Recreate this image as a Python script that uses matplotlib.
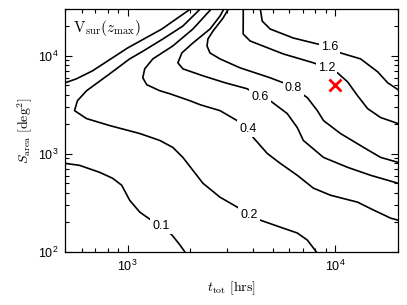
import matplotlib
matplotlib.use("Agg")
import matplotlib.pyplot as plt
from matplotlib.ticker import LogLocator, LogFormatterSciNotation, NullFormatter

plt.rcParams["font.family"] = ["Liberation Sans", "DejaVu Sans"]
plt.rcParams["mathtext.fontset"] = "custom"
plt.rcParams["mathtext.rm"] = "Liberation Sans"
plt.rcParams["mathtext.it"] = "Liberation Sans:italic"

# contour traces: t_tot [hrs], S_area [deg^2]
t_01a = [500, 567, 677, 1000, 1460, 2000]
s_01a = [5320, 5840, 7040, 12060, 18800, 30000]

t_01b = [500, 586, 733, 847, 936, 1022, 1143, 1277, 1443, 1633, 1783, 1885]
s_01b = [801, 765, 649, 564, 479, 337, 255, 216, 184, 149, 118, 100]

t_02 = [2230, 1844, 1477, 1169, 1022, 819, 634, 573, 555, 634, 819, 1143, 1428,
        1649, 1844, 2060, 2302, 2781, 3363, 3843, 4345, 5423, 6549, 7324, 8090]
s_02 = [30000, 20180, 14880, 10990, 9320, 6560, 4410, 3490, 2765, 2293, 1947,
        1615, 1372, 1165, 921, 680, 502, 362, 287, 238, 211, 179, 156, 132, 100]

t_04 = [2520, 2060, 1649, 1321, 1208, 1182, 1236, 1428, 1596, 1993, 2228, 2781,
        3363, 3800, 4018, 4693, 5423, 6549, 7834, 9460, 12770, 15270, 18440, 20000]
s_04 = [30000, 18800, 12640, 9320, 7380, 5980, 5080, 4410, 4110, 3490, 3180, 2765,
        2188, 1814, 1471, 1012, 801, 605, 447, 379, 322, 267, 221, 211]

t_06 = [2900, 2781, 2489, 2060, 1823, 1744, 1844, 2302, 2944, 3760, 4345, 4850,
        5860, 6549, 7005, 8757, 11430, 14760, 20000]
s_06 = [30000, 25500, 18800, 13550, 10730, 8500, 7380, 6270, 5320, 4620, 3838,
        3490, 2578, 1857, 1372, 921, 730, 605, 502]

t_08 = [3050, 2876, 2574, 2433, 2409, 2489, 2781, 3478, 4850, 5605, 6265, 7324,
        8180, 8757, 10570, 13660, 16500, 20000]
s_08 = [30000, 24300, 17950, 14880, 12640, 10730, 9320, 7550, 5980, 5320, 4730,
        3745, 2765, 2188, 1615, 1165, 921, 820]

t_12 = [3600, 3595, 3884, 5605, 7834, 9060, 10230, 11430, 12770, 14280, 16500, 20000]
s_12 = [30000, 16730, 14200, 10480, 8500, 7550, 6720, 5440, 3927, 2897, 2350, 2040]

t_16 = [4350, 4441, 4850, 6265, 7834, 9350, 10570, 13210, 15960, 17830, 20000]
s_16 = [30000, 22660, 18800, 15230, 13550, 12340, 10730, 9320, 6880, 5320, 4520]

# inline labels: text, t, S
label_text = ["0.1", "0.2", "0.4", "0.6", "0.8", "1.2", "1.6"]
label_t = [1443, 3843, 3800, 4345, 6265, 9060, 9350]
label_s = [184, 238, 1814, 3838, 4730, 7550, 12340]

survey_t = [10000]
survey_s = [5000]

fig = plt.figure(figsize=(4.07, 3.05), dpi=100)
ax = fig.add_axes([0.160, 0.174, 0.818, 0.796])

for t, s in [(t_01a, s_01a), (t_01b, s_01b), (t_02, s_02), (t_04, s_04),
             (t_06, s_06), (t_08, s_08), (t_12, s_12), (t_16, s_16)]:
    ax.plot(t, s, color="black", lw=1.2, solid_joinstyle="round")

for txt, t, s in zip(label_text, label_t, label_s):
    ax.text(t, s, txt, ha="center", va="center", fontsize=9, zorder=5,
            bbox=dict(fc="white", ec="none", pad=1.5))

ax.plot(survey_t, survey_s, marker="x", color="red", ms=9, mew=2, ls="none",
        zorder=6)

ax.set_xscale("log")
ax.set_yscale("log")
ax.set_xlim(500, 20000)
ax.set_ylim(100, 30000)

for axis in (ax.xaxis, ax.yaxis):
    axis.set_major_locator(LogLocator(base=10))
    axis.set_minor_locator(LogLocator(base=10, subs=range(2, 10)))
    axis.set_major_formatter(LogFormatterSciNotation())
    axis.set_minor_formatter(NullFormatter())

ax.tick_params(which="both", direction="in", top=True, right=True,
               labelsize=9, width=0.8, pad=5)
ax.tick_params(which="major", length=5)
ax.tick_params(which="minor", length=3)
for sp in ax.spines.values():
    sp.set_linewidth(0.9)

ax.set_xlabel(r"$t_{\rm tot}\ [{\rm hrs}]$", fontsize=10,
              math_fontfamily="cm", labelpad=4)
ax.set_ylabel(r"$S_{\rm area}\ [{\rm deg}^2]$", fontsize=10,
              math_fontfamily="cm", labelpad=2)

ax.text(0.025, 0.965, r"${\rm V}_{\rm sur}(z_{\rm max})$", transform=ax.transAxes,
        ha="left", va="top", fontsize=11, math_fontfamily="cm")

fig.savefig("out.png", dpi=100)
